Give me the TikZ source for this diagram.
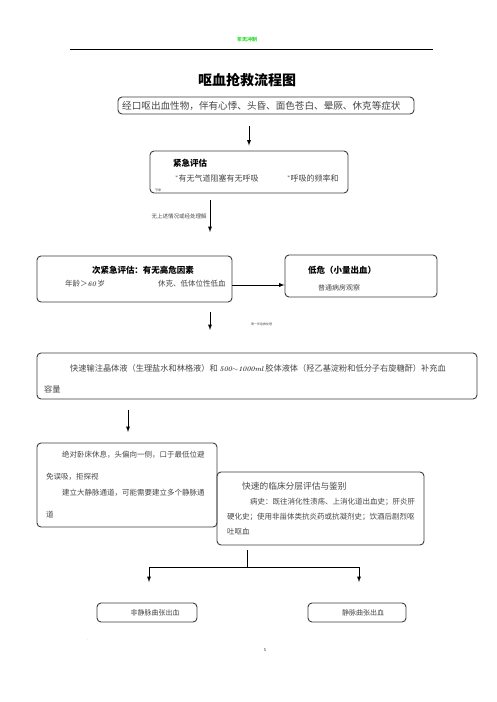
\documentclass[tikz,border=0pt]{standalone}
\usepackage{fontspec}
\newfontfamily\cjk{Noto Sans CJK SC}
\usetikzlibrary{positioning}
\definecolor{HeadGreen}{RGB}{40,220,40}
\definecolor{BoxGray}{RGB}{60,60,60}
\definecolor{InkGray}{RGB}{70,70,70}
\def\star{\raisebox{2pt}{\normalfont\fontsize{5}{5}\selectfont *}}
\def\num#1{{\normalfont\bfseries\itshape\fontsize{7}{8}\selectfont #1}}

\begin{document}
\begin{tikzpicture}[x=1pt,y=-1pt, box/.style={draw=BoxGray,line width=0.9pt,rounded corners=4pt,inner sep=0pt}, txt/.style={inner sep=0pt,anchor=west,InkGray,font=\cjk\fontsize{7.5}{9}\selectfont}, bold/.style={inner sep=0pt,anchor=west,black,font=\cjk\bfseries\fontsize{8.5}{10}\selectfont}, flow/.style={-latex,line width=0.9pt,black}]

\useasboundingbox (0,0) rectangle (496,702);

% page head
\node[font=\cjk\bfseries\fontsize{5}{6}\selectfont,HeadGreen] (head) at (247,40) {年无冲制};
\draw[line width=1.2pt] (70,49.5) -- (433,49.5);
\node[font=\cjk\bfseries\fontsize{14}{16}\selectfont] (title) at (247,80) {呕血抢救流程图};

% the boxes
\node[box,minimum width=296,minimum height=17] (sympt) at (266,105.5) {};
\node[box,minimum width=198,minimum height=42] (urgent) at (249,172) {};
\node[box,minimum width=195,minimum height=46] (second) at (134.5,279) {};
\node[box,minimum width=152,minimum height=42] (lowrisk) at (361,276) {};
\node[box,minimum width=440,minimum height=46] (fluid) at (257,376) {};
\node[box,minimum width=180,minimum height=84] (rest) at (127,485) {};
\node[box,minimum width=207,minimum height=73] (assess) at (320.5,508.5) {};
\node[box,minimum width=100,minimum height=19] (nonvar) at (147,612.5) {};
\node[box,minimum width=98,minimum height=19] (varix) at (357,612.5) {};

% texts in the boxes
\node[txt,font=\cjk\fontsize{9.6}{11}\selectfont] (t-sympt) at (122,105.5) {经口呕出血性物，伴有心悸、头昏、面色苍白、晕厥、休克等症状};

\node[bold] (t-urg) at (173,163) {紧急评估};
\node[txt,font=\cjk\fontsize{8}{10}\selectfont] (t-air) at (175,178) {\star 有无气道阻塞有无呼吸};
\node[txt,font=\cjk\fontsize{8}{10}\selectfont] (t-rate) at (287,178) {\star 呼吸的频率和};
\node[txt,font=\cjk\fontsize{3}{4}\selectfont] (t-rhy) at (155,190) {节律};

\node[bold,anchor=center] (t-sec) at (143,270) {次紧急评估：有无高危因素};
\node[txt] (t-age) at (65,284) {年龄＞\num{60} 岁};
\node[txt] (t-shock) at (158,284) {休克、低体位性低血};

\node[bold] (t-low) at (308,270) {低危（小量出血）};
\node[txt,font=\cjk\fontsize{7}{9}\selectfont] (t-ward) at (318,288) {普通病房观察};

\node[txt,font=\cjk\fontsize{8.2}{10}\selectfont] (t-fl1) at (70,368) {快速输注晶体液（生理盐水和林格液）和 \num{500$\sim$1000ml} 胶体液体（羟乙基淀粉和低分子右旋糖酐）补充血};
\node[txt,font=\cjk\fontsize{8.2}{10}\selectfont] (t-fl2) at (44,389) {容量};

\node[txt] (t-r1) at (62,455) {绝对卧床休息，头偏向一侧，口于最低位避};
\node[txt] (t-r2) at (46,477) {免误吸，拒探视};
\node[txt] (t-r3) at (62,493) {建立大静脉通道，可能需要建立多个静脉通};
\node[txt] (t-r4) at (46,515) {道};

\node[txt,font=\cjk\fontsize{8.7}{10}\selectfont] (t-as) at (242,486) {快速的临床分层评估与鉴别};
\node[txt] (t-h1) at (250,502) {病史：既往消化性溃疡、上消化道出血史；肝炎肝};
\node[txt] (t-h2) at (227,517) {硬化史；使用非甾体类抗炎药或抗凝剂史；饮酒后剧烈呕};
\node[txt] (t-h3) at (227,531) {吐呕血};

\node[txt,anchor=center,font=\cjk\fontsize{7}{9}\selectfont] (t-nv) at (155,613) {非静脉曲张出血};
\node[txt,anchor=center,font=\cjk\fontsize{7}{9}\selectfont] (t-v) at (363,613) {静脉曲张出血};

% connectors
\draw[flow,shorten <=12pt,shorten >=5pt] (urgent.north |- sympt.south) -- (urgent.north);
\coordinate (a2s) at (210,200);
\coordinate (a2e) at (210,232);
\draw[flow] (a2s) -- (a2e) node[midway,left=3pt,txt,anchor=east,font=\cjk\fontsize{5.5}{7}\selectfont] (t-none) {无上述情况或经处理解};
\draw[flow] ([yshift=-6pt]second.east) -- ([yshift=-6pt]second.east -| lowrisk.west);
\coordinate (a3s) at (210,312);
\coordinate (a3e) at (210,330);
\draw[flow] (a3s) -- (a3e);
\node[txt,font=\cjk\fontsize{3}{4}\selectfont] (t-first) at (251,324) {第一步急救处理};
\coordinate (a4s) at (128,410);
\coordinate (a4e) at (128,432);
\draw[flow] (a4s) -- (a4e);

% the fork at the bottom
\coordinate (trunk) at (247,550);
\coordinate (fork) at (247,567);
\coordinate (lt) at (149,582);
\coordinate (rt) at (359,582);
\draw[line width=0.9pt] (trunk) -- (fork);
\draw[flow] (fork) -| (lt);
\draw[flow] (fork) -| (rt);

% foot
\node[font=\fontsize{3}{4}\selectfont] (dot) at (88,640) {.};
\node[font=\fontsize{4}{5}\selectfont] (page) at (265,650) {5};

\end{tikzpicture}
\end{document}
